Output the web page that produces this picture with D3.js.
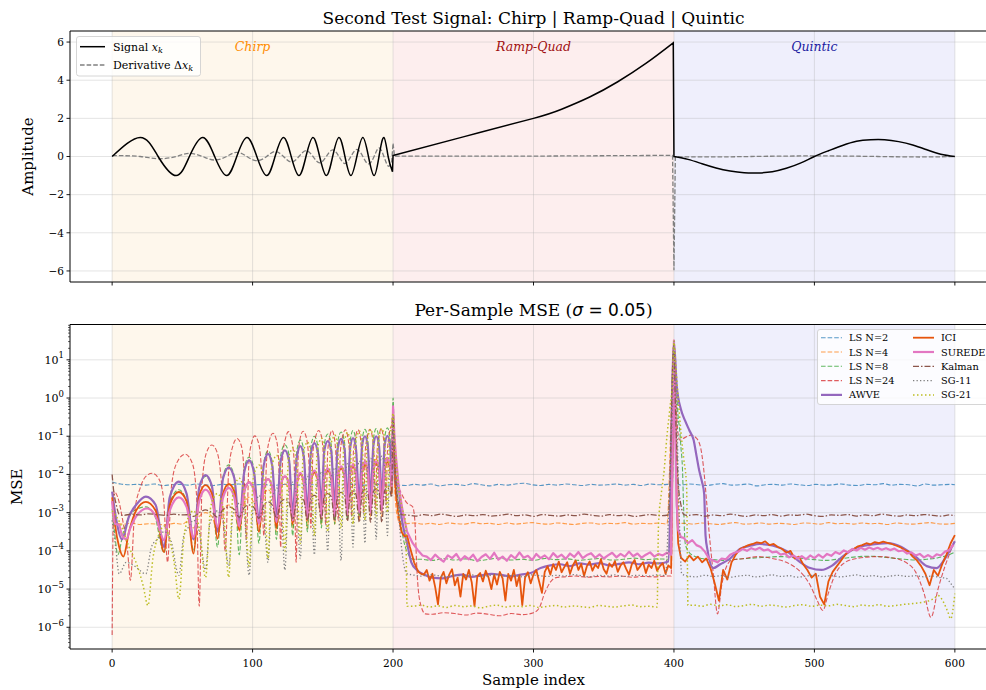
<!DOCTYPE html>
<html><head><meta charset="utf-8">
<script src="https://cdn.jsdelivr.net/npm/d3@7"></script>
<style>body{margin:0;background:#fff}svg{display:block}text{font-family:"DejaVu Serif",serif;fill:#000}</style>
</head><body><svg id="c" width="986" height="690"></svg>
<script>
// ---------------- DATA ----------------
const run = (x0, dx, vals) => vals.map((v, i) => [x0 + i * dx, v]);

const xTicks = [0, 100, 200, 300, 400, 500, 600];
const ampTicks = [-6, -4, -2, 0, 2, 4, 6];
const mseExps = [-6, -5, -4, -3, -2, -1, 0, 1];
const regionStarts = [0, 200, 400];
const regionEnds = [200, 400, 600];
const regionNames = ['Chirp', 'Ramp-Quad', 'Quintic'];

// top panel: signal and derivative (sample, value)
const signalChirp = [[0,0],[20,1],[32.75,0],[45.5,-1],[55,0],[64.5,1],[73,0],[81.5,-1],[88.75,0],[96,1],[103,0],[110,-1],[116,0],[122,1],[127.5,0],[133,-1],[138,0],[143,1],[147.75,0],[152.5,-1],[157,0],[161.5,1],[165.75,0],[170,-1],[174.25,0],[178.5,1],[182.5,0],[186.5,-1],[190,0],[193.5,1],[196.5,0],[199.6,-0.8]];
const signalRamp = [[200,0.05],[250,1.03],[300,2.0],[320,2.48],[340,3.12],[360,3.92],[380,4.88],[399.5,5.96]];
const signalQuintic = [[400,0],[410,-0.15],[420,-0.38],[430,-0.6],[440,-0.76],[450,-0.85],[460,-0.86],[470,-0.8],[480,-0.62],[490,-0.35],[500,0],[510,0.3],[520,0.58],[530,0.8],[540,0.88],[550,0.88],[560,0.78],[570,0.6],[580,0.35],[590,0.12],[600,0]];
const derivChirp = [[0,0.05],[20,0],[32.75,-0.12],[45.5,0],[55,0.165],[64.5,0],[73,-0.185],[81.5,0],[88.75,0.22],[96,0],[103,-0.22],[110,0],[116,0.26],[122,0],[127.5,-0.29],[133,0],[138,0.31],[143,0],[147.75,-0.33],[152.5,0],[157,0.35],[161.5,0],[165.75,-0.37],[170,0],[174.25,0.37],[178.5,0],[182.5,-0.39],[186.5,0],[190,0.45],[193.5,0],[196.5,-0.5],[199,-0.3]];
const derivRamp = [[200,0.7],[201,0.02],[300,0.02],[399,0.06],[400,-5.96],[401,-0.015]];
const derivQuintic = [[401,-0.015],[430,-0.022],[455,0],[500,0.03],[545,0],[575,-0.025],[600,0]];

// bottom panel: log10(MSE) per sample
const lsN2 = [
 ...run(0,6,[-2.2,-2.25,-2.27,-2.26,-2.28,-2.25,-2.29,-2.27,-2.26,-2.28,-2.25,-2.27,-2.29,-2.26,-2.27,-2.25,-2.28,-2.27,-2.26,-2.29,-2.27,-2.25,-2.28,-2.26,-2.27,-2.29,-2.26,-2.28,-2.25,-2.27,-2.28,-2.26,-2.27,-2.28]),
 [200,-1.0],[201,-2.1],
 ...run(203,6,[-2.27,-2.29,-2.26,-2.28,-2.25,-2.3,-2.27,-2.26,-2.29,-2.24,-2.27,-2.3,-2.26,-2.28,-2.25,-2.23,-2.27,-2.29,-2.26,-2.28,-2.25,-2.27,-2.29,-2.26,-2.28,-2.27,-2.25,-2.28,-2.26,-2.29,-2.25,-2.27,-2.26]),
 [399,-2.2],[400,1.3],[401,-0.6],[402,-2.2],
 ...run(405,6,[-2.28,-2.25,-2.27,-2.29,-2.26,-2.24,-2.28,-2.27,-2.25,-2.3,-2.27,-2.26,-2.28,-2.25,-2.27,-2.29,-2.26,-2.28,-2.27,-2.25,-2.28,-2.29,-2.26,-2.27,-2.24,-2.28,-2.26,-2.27,-2.3,-2.25,-2.28,-2.27,-2.26]),
 [600,-2.27]
];
const lsN4 = [
 [0,-3.0],[3,-3.28],[8,-3.3],[14,-3.28],[20,-3.31],[26,-3.29],[32,-3.3],[38,-3.32],[44,-3.28],[50,-3.3],[54,-3.22],[58,-3.4],[62,-3.1],[66.5,-3.0],[71,-3.1],[75,-3.5],[79,-2.95],[83,-2.8],[87,-2.95],[90.5,-3.5],[94,-2.75],[97.5,-2.6],[101,-2.75],[104.5,-3.5],[108,-2.55],[111,-2.4],[114,-2.55],[117,-3.5],[120,-2.4],[123,-2.25],[126,-2.4],[128.5,-3.4],[131.5,-2.25],[134,-2.1],[136.5,-2.25],[139,-3.4],[141.5,-2.15],[144,-2.0],[146.5,-2.15],[149,-3.3],[151,-2.05],[153.5,-1.9],[156,-2.05],[158.5,-3.3],[160.5,-1.95],[163,-1.8],[165.5,-1.95],[167.5,-3.2],[169.5,-1.85],[171.5,-1.7],[173.5,-1.85],[176,-3.2],[178,-1.8],[180,-1.65],[182,-1.8],[184,-3.1],[186,-1.75],[188,-1.6],[190,-1.75],[192,-3.1],[194,-1.7],[196,-1.55],[198,-1.8],[200,-0.8],[201,-2.2],[203,-3.1],[205,-3.28],
 ...run(209,6,[-3.29,-3.27,-3.3,-3.28,-3.31,-3.27,-3.29,-3.3,-3.26,-3.29,-3.28,-3.31,-3.27,-3.3,-3.28,-3.26,-3.29,-3.3,-3.27,-3.29,-3.31,-3.28,-3.27,-3.3,-3.28,-3.29,-3.26,-3.3,-3.28,-3.29,-3.27,-3.3]),
 [400,1.35],[401,0.2],[402,-1.2],[403,-2.6],[404,-3.28],
 ...run(408,6,[-3.28,-3.3,-3.27,-3.29,-3.31,-3.28,-3.26,-3.3,-3.29,-3.27,-3.3,-3.28,-3.29,-3.31,-3.27,-3.28,-3.3,-3.26,-3.29,-3.28,-3.3,-3.27,-3.29,-3.28,-3.31,-3.27,-3.29,-3.3,-3.28,-3.26,-3.29,-3.3,-3.28])
];
const lsN8 = [
 [0,-2.9],[2,-3.6],[4,-4.1],[8,-3.5],[13,-3.05],[18,-2.9],[24,-2.85],[30,-3.05],[37,-4.05],[41,-2.75],[47.5,-2.4],[53,-2.7],[58,-4.0],[62,-2.35],[66.5,-2.05],[71,-2.35],[75,-3.9],[79,-2.05],[83,-1.75],[87,-2.05],[90.5,-4.1],[94,-1.85],[97.5,-1.55],[101,-1.85],[104.5,-3.8],[108,-1.68],[111,-1.38],[114,-1.68],[117,-3.7],[120,-1.5],[123,-1.22],[126,-1.5],[128.5,-3.6],[131.5,-1.38],[134,-1.1],[136.5,-1.38],[139,-3.5],[141.5,-1.28],[144,-1.0],[146.5,-1.28],[149,-3.4],[151,-1.22],[153.5,-0.94],[156,-1.22],[158.5,-3.3],[160.5,-1.17],[163,-0.89],[165.5,-1.17],[167.5,-3.2],[169.5,-1.12],[171.5,-0.85],[173.5,-1.12],[176,-3.1],[178,-1.1],[180,-0.82],[182,-1.1],[184,-3.0],[186,-1.08],[188,-0.8],[190,-1.08],[192,-2.9],[194,-1.05],[196,-0.78],[198,-1.1],[199,-1.6],[200,0.0],[201,-1.2],[202,-2.0],[204,-2.8],[206,-3.4],[208,-3.8],[211,-4.1],[214,-4.22],
 ...run(220,8,[-4.22,-4.25,-4.2,-4.24,-4.21,-4.26,-4.22,-4.19,-4.24,-4.22,-4.25,-4.2,-4.23,-4.21,-4.25,-4.22,-4.2,-4.24,-4.22,-4.19,-4.23,-4.21,-4.22]),
 [400,1.45],[401,0.6],[402,0.1],[403,-0.5],[404,-0.8],[405,-1.3],[406,-1.8],[407,-3.0],[408,-3.8],[410,-4.0],[415,-4.15],
 ...run(420,8,[-4.2,-4.23,-4.25,-4.22,-4.2,-4.18,-4.16,-4.15,-4.17,-4.2,-4.23,-4.25,-4.22,-4.18,-4.15,-4.14,-4.16,-4.19,-4.22,-4.24,-4.22,-4.18,-4.1]),
 [600,-4.03]
];
const lsN24 = [
 [0,-6.2],[0.8,-3.0],[1.5,-2.45],[4,-2.6],[8,-3.3],[11,-4.0],[13,-4.77],[16,-3.0],[20,-2.35],[24,-2.05],[28.5,-1.97],[33,-2.1],[36.5,-2.6],[39.5,-4.3],[42,-2.4],[46,-1.7],[52,-1.47],[57,-1.7],[60,-2.5],[62,-5.45],[64,-2.3],[67,-1.45],[71,-1.23],[75,-1.45],[78,-2.3],[80.5,-4.0],[83,-1.9],[86,-1.25],[89,-1.06],[92,-1.25],[94,-2.0],[95.5,-3.7],[97.5,-1.6],[99.5,-1.15],[101.5,-0.99],[104,-1.15],[106,-1.7],[108,-3.6],[110,-1.6],[112,-1.1],[114.5,-0.92],[117,-1.1],[118.5,-1.6],[120,-3.9],[121.5,-1.5],[123.5,-1.05],[125.5,-0.88],[127.5,-1.05],[129.5,-1.6],[131,-4.3],[132.5,-1.5],[134.2,-1.0],[136,-0.87],[138,-1.0],[140,-1.6],[141.5,-3.4],[143,-1.4],[145,-1.0],[147,-0.85],[149,-1.0],[150.5,-1.6],[152,-3.3],[153.5,-1.4],[155,-1.0],[156.5,-0.85],[158,-1.0],[159.5,-1.6],[161,-3.2],[162.5,-1.4],[164.2,-1.0],[166,-0.83],[167.7,-1.0],[169.2,-1.6],[170.5,-3.1],[171.8,-1.4],[173.4,-1.0],[175,-0.83],[176.6,-1.0],[177.8,-1.6],[179,-3.0],[180.2,-1.4],[181.8,-1.0],[183.5,-0.82],[185.2,-1.0],[186.4,-1.5],[187.5,-2.9],[188.6,-1.4],[190,-1.0],[191.5,-0.8],[193,-1.0],[194,-1.5],[195,-2.8],[196,-1.4],[197,-1.0],[198,-0.8],[199,-0.7],[200,-0.3],[201,-1.3],[203,-2.2],[206,-2.5],[210,-2.75],[214,-2.85],[215.5,-3.2],[217,-4.5],[219,-5.3],[223,-5.65],
 ...run(228,8,[-5.66,-5.62,-5.64,-5.68,-5.63,-5.66,-5.7,-5.64,-5.67,-5.62]),
 [304,-5.5],[308,-5.1],[312,-4.82],[316,-4.7],
 ...run(322,8,[-4.68,-4.66,-4.69,-4.67,-4.68,-4.66,-4.69,-4.67,-4.68,-4.66]),
 [398,-4.66],[400,1.5],[401,0.3],[402,-0.5],[404,-1.1],[408,-1.03],[412,-0.97],[416,-1.05],[419,-1.3],[421,-1.8],[423,-2.6],[425,-3.5],[428,-4.6],[431,-5.65],[434,-4.9],[437,-4.45],[441,-4.25],[450,-4.2],[460,-4.15],[470,-4.2],[480,-4.3],[490,-4.55],[497,-4.9],[502,-5.3],[506,-5.56],[510,-5.1],[515,-4.6],[520,-4.35],[530,-4.2],[545,-4.15],[555,-4.18],[565,-4.3],[572,-4.55],[578,-5.1],[583,-5.74],[588,-5.0],[593,-4.4],[597,-4.0],[600,-3.72]
];
const awve = [
 [0,-2.45],[3,-3.2],[7,-3.7],[12,-3.1],[17,-2.8],[24,-2.58],[31,-2.8],[37,-3.9],[41,-2.6],[47.5,-2.19],[53,-2.5],[58,-3.7],[62,-2.35],[66.5,-2.02],[71,-2.3],[75,-3.5],[79,-2.1],[83,-1.82],[87,-2.1],[90.5,-3.3],[94,-1.95],[97.5,-1.63],[101,-1.95],[104.5,-3.2],[108,-1.75],[111,-1.46],[114,-1.78],[117,-3.1],[120,-1.65],[123,-1.37],[126,-1.65],[128.5,-3.0],[131.5,-1.55],[134,-1.26],[136.5,-1.55],[139,-2.9],[141.5,-1.45],[144,-1.18],[146.5,-1.45],[149,-2.8],[151,-1.4],[153.5,-1.13],[156,-1.4],[158.5,-2.8],[160.5,-1.35],[163,-1.07],[165.5,-1.35],[167.5,-2.7],[169.5,-1.3],[171.5,-1.05],[173.5,-1.3],[176,-2.7],[178,-1.25],[180,-1.0],[182,-1.25],[184,-2.6],[186,-1.25],[188,-1.0],[190,-1.25],[192,-2.6],[194,-1.25],[196,-0.99],[198,-1.3],[199,-2.2],[200,-0.85],[201.5,-2.2],[204,-2.35],[206,-3.1],[208,-3.5],[210,-3.8],[213,-4.3],[217,-4.5],[222,-4.62],
 ...run(228,7,[-4.7,-4.72,-4.66,-4.62,-4.68,-4.64,-4.6,-4.63,-4.67,-4.62,-4.58,-4.45,-4.38,-4.35,-4.4,-4.33,-4.36,-4.32,-4.38,-4.34,-4.3,-4.35,-4.31,-4.33,-4.28]),
 [400,1.45],[402,0.3],[405,-0.3],[408,-0.6],[411,-0.85],[414,-1.1],[416,-1.5],[418,-1.9],[420,-2.2],[421.5,-2.5],[422.5,-3.6],[424,-4.0],[428,-4.45],[433,-4.35],[440,-4.2],[447,-3.95],[455,-3.86],[461,-3.82],[470,-3.86],[480,-4.0],[490,-4.3],[497,-4.45],[505,-4.5],[512,-4.4],[520,-4.15],[530,-3.92],[540,-3.84],[552,-3.8],[562,-3.9],[572,-4.15],[580,-4.4],[587,-4.45],[593,-4.2],[600,-3.75]
];
const ici = [
 [0,-2.6],[2,-3.3],[5,-3.9],[8,-4.15],[12,-3.5],[17,-2.95],[24,-2.72],[31,-2.95],[37,-4.03],[41,-2.8],[47.5,-2.46],[53,-2.7],[58,-4.07],[62,-2.55],[66.5,-2.28],[71,-2.5],[75,-3.68],[79,-2.5],[83,-2.25],[87,-2.45],[90.5,-3.46],[94,-2.45],[97.5,-2.2],[101,-2.4],[104.5,-3.5],[108,-2.35],[111,-2.12],[114,-2.35],[117,-3.4],[120,-2.3],[123,-2.05],[126,-2.25],[128.5,-3.3],[131.5,-2.22],[134,-2.0],[136.5,-2.2],[139,-3.2],[141.5,-2.15],[144,-1.95],[146.5,-2.15],[149,-3.1],[151,-2.1],[153.5,-1.9],[156,-2.1],[158.5,-3.0],[160.5,-2.05],[163,-1.85],[165.5,-2.05],[167.5,-3.0],[169.5,-2.0],[171.5,-1.8],[173.5,-2.0],[176,-2.9],[178,-1.95],[180,-1.75],[182,-1.95],[184,-2.9],[186,-1.9],[188,-1.72],[190,-1.9],[192,-2.8],[194,-1.88],[196,-1.68],[198,-1.9],[199,-2.5],[200,-0.45],[201,-1.6],[202,-2.5],[204,-3.1],[206,-3.5],[208,-3.62],[210,-3.6],[212,-3.9],[215,-4.3],[218,-4.55],[220,-4.6],
 ...run(222,2,[-4.62,-4.5,-4.78,-4.6,-4.95,-5.4,-4.7,-4.55,-4.85,-4.62,-4.48,-4.9,-4.7,-5.2,-4.6,-4.75,-4.5,-4.82,-5.45,-4.66,-4.58,-4.8,-4.52,-4.7,-5.0,-4.62,-4.88,-4.55,-4.72,-5.3,-4.6,-4.78,-4.5,-4.92,-4.64,-5.42,-4.7,-4.56,-4.85,-4.62]),
 ...run(302,2,[-4.5,-4.8,-5.1,-4.55,-4.4,-4.62,-4.35,-4.5,-4.28,-4.56,-4.42,-4.3,-4.6,-4.38,-4.25,-4.5,-4.34,-4.66,-4.4,-4.28,-4.52,-4.36,-4.45,-4.22,-4.48,-4.6,-4.33,-4.42,-4.27,-4.55,-4.38,-4.3,-4.47,-4.62,-4.35,-4.24,-4.5,-4.4,-4.3,-4.58,-4.36,-4.45,-4.26,-4.52,-4.4,-4.32,-4.6,-4.38,-4.45]),
 [400,1.5],[401,-0.5],[402,-2.8],[403,-3.8],
 ...run(405,3,[-4.18,-4.28,-4.12,-4.25,-4.15,-4.3,-4.2,-4.45,-4.85,-5.3,-4.5,-4.75,-4.3,-4.1,-3.95,-3.9,-3.85,-3.82,-3.78,-3.8,-3.75,-3.85,-3.82,-3.9,-3.95,-4.05,-4.0,-4.2,-4.15,-4.35,-4.5,-4.7,-4.6,-5.2,-5.4,-4.8,-4.55,-4.4,-4.25,-4.1,-4.0,-3.95,-3.88,-3.85,-3.8,-3.83,-3.77,-3.8,-3.76,-3.79,-3.82,-3.86,-3.9,-3.97,-4.02,-4.15,-4.25,-4.4,-4.6,-4.9,-4.5,-4.65,-4.35,-4.1,-3.8]),
 [600,-3.59]
];
const surede = [
 [0,-2.7],[2,-3.29],[5,-3.32],[7,-3.6],[10,-3.7],[13,-3.4],[18,-3.05],[25,-2.89],[31,-3.1],[37,-3.72],[41,-2.95],[47.5,-2.6],[53,-2.85],[58,-3.64],[62,-2.7],[66.5,-2.4],[71,-2.65],[75,-3.37],[79,-2.6],[83,-2.35],[87,-2.6],[90.5,-3.35],[94,-2.45],[97.5,-2.21],[101,-2.45],[104.5,-3.29],[108,-2.35],[111,-2.12],[114,-2.35],[117,-3.25],[120,-2.28],[123,-2.05],[126,-2.28],[128.5,-3.2],[131.5,-2.2],[134,-1.96],[136.5,-2.2],[139,-3.15],[141.5,-2.12],[144,-1.9],[146.5,-2.12],[149,-3.1],[151,-2.08],[153.5,-1.85],[156,-2.08],[158.5,-3.1],[160.5,-2.02],[163,-1.79],[165.5,-2.02],[167.5,-3.05],[169.5,-1.97],[171.5,-1.74],[173.5,-1.97],[176,-3.0],[178,-1.9],[180,-1.66],[182,-1.9],[184,-3.0],[186,-1.9],[188,-1.66],[190,-1.9],[192,-2.95],[194,-1.8],[196,-1.57],[198,-1.8],[199,-2.3],[200,-0.22],[201,-1.0],[202,-1.5],[204,-2.3],[207,-3.0],[210,-3.5],[214,-3.8],[218,-4.0],[221,-4.12],
 ...run(224,3,[-4.15,-4.24,-4.1,-4.2,-4.28,-4.12,-4.19,-4.08,-4.25,-4.14,-4.22,-4.1,-4.27,-4.16,-4.09,-4.21,-4.05,-4.23,-4.15,-4.26,-4.11,-4.2,-4.04,-4.18,-4.13,-4.24,-4.08,-4.19,-4.12,-4.22,-4.06,-4.17,-4.1,-4.21,-4.07,-4.16,-4.03,-4.19,-4.11,-4.06,-4.18,-4.09,-4.2,-4.12,-4.05,-4.17,-4.08,-4.15,-4.02,-4.14,-4.07,-4.18,-4.1,-4.04,-4.15,-4.08,-4.12,-4.05,-4.1]),
 [400,1.5],[401,-1.0],[402,-2.8],[403,-3.45],[405,-3.64],
 ...run(407,3,[-3.66,-3.8,-3.72,-3.85,-3.9,-4.02,-4.2,-4.25,-4.3,-4.2,-4.22,-4.1,-4.05,-4.02,-3.95,-4.0,-3.93,-3.97,-3.92,-3.99,-3.96,-4.04,-4.02,-4.1,-4.07,-4.17,-4.12,-4.2,-4.14,-4.22,-4.12,-4.19,-4.1,-4.18,-4.08,-4.13,-4.03,-4.08,-3.99,-4.04,-3.95,-3.99,-3.92,-3.97,-3.91,-3.96,-3.92,-3.97,-3.93,-3.98,-3.94,-4.01,-3.99,-4.07,-4.04,-4.12,-4.08,-4.17,-4.11,-4.18,-4.09,-4.12,-4.02,-3.98,-3.84])
];
const kalman = [
 [0,-2.0],[1,-2.4],[3,-2.8],[5,-3.04],
 ...run(8,6,[-3.07,-3.04,-3.06,-3.03,-3.05,-3.07,-3.04,-3.06,-3.05]),
 [58,-3.1],[62,-3.0],[66.5,-2.93],[71,-3.0],[75,-3.12],[79,-2.92],[83,-2.85],[87,-2.92],[90.5,-3.12],[94,-2.87],[97.5,-2.8],[101,-2.87],[104.5,-3.15],[108,-2.8],[111,-2.72],[114,-2.8],[117,-3.15],[120,-2.73],[123,-2.65],[126,-2.73],[128.5,-3.18],[131.5,-2.68],[134,-2.6],[136.5,-2.68],[139,-3.2],[141.5,-2.63],[144,-2.55],[146.5,-2.63],[149,-3.2],[151,-2.58],[153.5,-2.5],[156,-2.58],[158.5,-3.22],[160.5,-2.55],[163,-2.47],[165.5,-2.55],[167.5,-3.22],[169.5,-2.51],[171.5,-2.43],[173.5,-2.51],[176,-3.25],[178,-2.48],[180,-2.4],[182,-2.48],[184,-3.25],[186,-2.45],[188,-2.37],[190,-2.45],[192,-3.25],[194,-2.43],[196,-2.35],[198,-2.45],[199,-2.6],[200,-0.5],[201,-1.5],[202,-2.2],[204,-2.8],[206,-3.05],
 ...run(210,6,[-3.06,-3.09,-3.05,-3.08,-3.04,-3.07,-3.1,-3.06,-3.08,-3.05,-3.09,-3.07,-3.04,-3.08,-3.06,-3.1,-3.05,-3.07,-3.09,-3.06,-3.08,-3.04,-3.07,-3.09,-3.05,-3.08,-3.06,-3.1,-3.07,-3.05,-3.08,-3.06]),
 [400,1.4],[401,-0.2],[402,-1.3],[403,-2.2],[405,-2.8],[407,-3.05],
 ...run(410,6,[-3.07,-3.05,-3.09,-3.06,-3.08,-3.04,-3.07,-3.1,-3.06,-3.08,-3.05,-3.09,-3.06,-3.07,-3.04,-3.08,-3.1,-3.06,-3.07,-3.05,-3.09,-3.06,-3.08,-3.04,-3.07,-3.09,-3.06,-3.08,-3.05,-3.07,-3.09,-3.06]),
 [600,-3.08]
];
const sg11 = [
 [0,-3.2],[2.5,-3.9],[5,-4.6],[10,-4.3],[16,-4.4],[24,-4.6],[28,-3.9],[32,-3.7],[37,-3.5],[42,-3.75],[47.5,-4.64],[51,-3.6],[54,-3.4],[58,-3.2],[62,-3.5],[66.5,-4.5],[69.5,-3.3],[72,-3.1],[75,-2.95],[79,-3.25],[83,-4.4],[86,-3.05],[88,-2.9],[90.5,-2.75],[94,-3.05],[97.5,-4.64],[100.5,-2.85],[102.5,-2.7],[104.5,-2.55],[107.5,-2.85],[111,-4.3],[113.5,-2.65],[115,-2.5],[117,-2.35],[120,-2.65],[123,-4.5],[125.5,-2.5],[127,-2.35],[128.5,-2.2],[131,-2.5],[134,-4.2],[136,-2.35],[137.5,-2.2],[139,-2.05],[141.5,-2.35],[144,-4.1],[146,-2.2],[147.5,-2.07],[149,-1.92],[151,-2.22],[153.5,-4.0],[155.5,-2.12],[157,-1.97],[158.5,-1.82],[160.5,-2.12],[163,-4.25],[165,-2.0],[166.3,-1.87],[167.5,-1.72],[169.5,-2.02],[171.5,-3.9],[173.3,-1.95],[174.7,-1.8],[176,-1.65],[178,-1.95],[180,-3.8],[181.6,-1.88],[182.8,-1.73],[184,-1.58],[186,-1.88],[188,-3.7],[189.6,-1.82],[190.8,-1.67],[192,-1.52],[194,-1.82],[196,-3.6],[197.5,-1.9],[199,-1.45],[200,-0.5],[201,-1.6],[203,-2.5],[205,-3.5],[207,-4.2],[210,-4.6],
 ...run(214,6,[-4.63,-4.66,-4.62,-4.65,-4.68,-4.64,-4.66,-4.63,-4.67,-4.65,-4.62,-4.66,-4.64,-4.68,-4.63,-4.65,-4.67,-4.64,-4.66,-4.62,-4.65,-4.68,-4.64,-4.66,-4.63,-4.67,-4.65,-4.64,-4.66,-4.63,-4.65]),
 [396,-3.2],[397,-2.3],[398,-1.3],[399,-0.2],[400,1.5],[401,0.5],[402,-0.25],[403,-2.0],[404,-3.4],[405.5,-4.6],
 ...run(410,6,[-4.66,-4.68,-4.64,-4.67,-4.65,-4.69,-4.66,-4.64,-4.68,-4.66,-4.63,-4.67,-4.65,-4.69,-4.66,-4.64,-4.67,-4.65,-4.68,-4.66,-4.63,-4.67,-4.65,-4.68,-4.66,-4.64,-4.67,-4.65,-4.68,-4.66,-4.7]),
 [594,-4.72],[597,-4.85],[600,-5.0]
];
const sg21 = [
 [0,-2.95],[6,-3.3],[12,-3.9],[18,-4.4],[22,-4.9],[25.5,-5.43],[29,-4.2],[33,-3.6],[37,-3.35],[41,-3.7],[44.5,-4.4],[47.5,-5.26],[51,-3.7],[54.5,-3.1],[58,-2.95],[62,-3.4],[66.5,-4.7],[70,-2.9],[72.5,-2.6],[75,-2.5],[79,-2.9],[83,-4.69],[86,-2.5],[88.3,-2.2],[90.5,-2.1],[94,-2.5],[97.5,-4.4],[100.5,-2.1],[102.5,-1.85],[104.5,-1.75],[108,-2.1],[111,-4.2],[113.5,-1.85],[115.2,-1.6],[117,-1.5],[120,-1.85],[123,-4.0],[125.5,-1.6],[127,-1.4],[128.5,-1.3],[131,-1.6],[134,-3.8],[136,-1.45],[137.5,-1.25],[139,-1.15],[141.5,-1.45],[144,-3.6],[146,-1.35],[147.5,-1.15],[149,-1.05],[151,-1.35],[153.5,-3.5],[155.5,-1.27],[157,-1.07],[158.5,-0.97],[160.5,-1.27],[163,-3.4],[165,-1.2],[166.3,-1.0],[167.5,-0.9],[169.5,-1.2],[171.5,-3.3],[173.3,-1.16],[174.7,-0.96],[176,-0.86],[178,-1.16],[180,-3.2],[181.6,-1.12],[182.8,-0.92],[184,-0.82],[186,-1.12],[188,-3.1],[189.6,-1.1],[190.8,-0.9],[192,-0.8],[194,-1.1],[196,-3.0],[197.5,-1.0],[199,-0.75],[200,-0.4],[201,-1.0],[203,-2.0],[206,-2.8],[209,-3.3],[210,-5.45],
 ...run(214,6,[-5.45,-5.42,-5.47,-5.44,-5.48,-5.43,-5.46,-5.44,-5.49,-5.45,-5.42,-5.47,-5.44,-5.46,-5.43,-5.48,-5.45,-5.43,-5.47,-5.44,-5.46,-5.48,-5.43,-5.45,-5.47,-5.44,-5.42,-5.46,-5.45,-5.47]),
 [389,-3.3],[391,-2.5],[393,-1.9],[395,-1.0],[397,-0.3],[399,0.5],[400,1.5],[401,1.0],[403,0.0],[405,-0.9],[407,-1.6],[409,-2.3],[410,-5.43],
 ...run(414,6,[-5.42,-5.45,-5.4,-5.44,-5.41,-5.46,-5.43,-5.4,-5.45,-5.42,-5.44,-5.47,-5.43,-5.41,-5.45,-5.42,-5.44,-5.4,-5.43,-5.46,-5.42,-5.44,-5.41,-5.45,-5.43,-5.4,-5.38,-5.35,-5.3]),
 [585,-5.25],[588,-5.17],[592,-5.35],[595,-5.6],[597,-5.78],[600,-5.12]
];

const seriesNames = ['LS N=2','LS N=4','LS N=8','LS N=24','AWVE','ICI','SUREDE','Kalman','SG-11','SG-21'];
const seriesData = [lsN2, lsN4, lsN8, lsN24, awve, ici, surede, kalman, sg11, sg21];

// ---------------- STYLES ----------------
const seriesStyle = [
 {c:'#1f77b4', w:1.1, d:'4.6,2', o:0.75},
 {c:'#ff7f0e', w:1.1, d:'4.6,2', o:0.75},
 {c:'#2ca02c', w:1.1, d:'4.6,2', o:0.75},
 {c:'#d62728', w:1.1, d:'4.6,2', o:0.75},
 {c:'#9467bd', w:2.2, d:null, o:1},
 {c:'#e6550d', w:1.8, d:null, o:1, jag:true},
 {c:'#e377c2', w:2.2, d:null, o:1, jag:true},
 {c:'#8c564b', w:1.3, d:'6,2,1.5,2', o:1},
 {c:'#7f7f7f', w:1.3, d:'1.3,2.2', o:1},
 {c:'#bcbd22', w:1.5, d:'1.5,2.5', o:1},
];
const regionFill = ['rgb(254,247,236)','rgb(253,238,238)','rgb(239,239,252)'];
const regionText = ['#ff8c00','#a01010','#1a1aa0'];

// ---------------- DRAW ----------------
const svg = d3.select('#c');
svg.append('rect').attr('width',986).attr('height',690).attr('fill','#fff');
const L = 70, R = 997;
const x = d3.scaleLinear().domain([-30, 630]).range([L, R]);
const topB = {t:31, b:282}, botB = {t:324.5, b:649};
const yTop = d3.scaleLinear().domain([-6.58, 6.58]).range([topB.b, topB.t]);
const yBot = d3.scaleLog().domain([2.7e-7, 84]).range([botB.b, botB.t]);

const defs = svg.append('defs');
defs.append('clipPath').attr('id','clipT').append('rect').attr('x',L).attr('y',topB.t).attr('width',R-L).attr('height',topB.b-topB.t);
defs.append('clipPath').attr('id','clipB').append('rect').attr('x',L).attr('y',botB.t).attr('width',R-L).attr('height',botB.b-botB.t);

function panelBase(B, clipId) {
  const g = svg.append('g').attr('clip-path', `url(#${clipId})`);
  regionStarts.forEach((s, i) => {
    g.append('rect').attr('x', x(s)).attr('y', B.t).attr('width', x(regionEnds[i]) - x(s)).attr('height', B.b - B.t)
     .attr('fill', regionFill[i]);
  });
  return g;
}
function grid(g, B, yScale, yVals) {
  xTicks.forEach(t => g.append('line').attr('x1', x(t)).attr('x2', x(t)).attr('y1', B.t).attr('y2', B.b)
    .attr('stroke', '#b0b0b0').attr('stroke-opacity', 0.38).attr('stroke-width', 0.9));
  yVals.forEach(v => g.append('line').attr('x1', L).attr('x2', R).attr('y1', yScale(v)).attr('y2', yScale(v))
    .attr('stroke', '#b0b0b0').attr('stroke-opacity', 0.38).attr('stroke-width', 0.9));
}

// ---- top panel
const gT = panelBase(topB, 'clipT');
grid(gT, topB, yTop, ampTicks);
regionStarts.forEach((s, i) => {
  gT.append('text').attr('x', x((s + regionEnds[i]) / 2)).attr('y', 50.5).attr('text-anchor','middle')
    .attr('font-size', 12.5).attr('font-style','italic').style('fill', regionText[i]).text(regionNames[i]);
});
function joinPath(segs, yS) {
  return segs.map((s, i) => {
    const p = d3.line().x(d => x(d[0])).y(d => yS(d[1])).curve(s.curve)(s.data);
    return i === 0 ? p : p.replace(/^M/, 'L');
  }).join('');
}
gT.append('path').attr('d', joinPath([
  {data: derivChirp, curve: d3.curveNatural},
  {data: derivRamp, curve: d3.curveLinear},
  {data: derivQuintic, curve: d3.curveNatural}], yTop))
  .attr('fill','none').attr('stroke','#808080').attr('stroke-width',1.3).attr('stroke-dasharray','4.6,2');
gT.append('path').attr('d', joinPath([
  {data: signalChirp, curve: d3.curveNatural},
  {data: signalRamp, curve: d3.curveNatural},
  {data: signalQuintic, curve: d3.curveNatural}], yTop))
  .attr('fill','none').attr('stroke','#000').attr('stroke-width',1.5);

// ---- bottom panel
const gB = panelBase(botB, 'clipB');
grid(gB, botB, yBot, mseExps.map(e => Math.pow(10, e)));
const yLog = v => yBot(Math.pow(10, v));
seriesData.forEach((data, i) => {
  const st = seriesStyle[i];
  const sorted = data.slice().sort((a, b) => a[0] - b[0]);
  let d;
  if (st.jag) {
    d = joinPath([
      {data: sorted.filter(p => p[0] < 200), curve: d3.curveMonotoneX},
      {data: sorted.filter(p => p[0] >= 199), curve: d3.curveLinear}], yLog);
  } else {
    d = joinPath([{data: sorted, curve: d3.curveMonotoneX}], yLog);
  }
  gB.append('path').attr('d', d).attr('fill','none').attr('stroke', st.c)
    .attr('stroke-width', st.w).attr('stroke-opacity', st.o).attr('stroke-dasharray', st.d)
    .attr('stroke-linejoin','round');
});

// ---- axes frames, ticks, labels
function frame(B) {
  [[L,L,B.t,B.b],[L,R,B.t,B.t],[L,R,B.b,B.b],[R,R,B.t,B.b]].forEach(a =>
    svg.append('line').attr('x1',a[0]).attr('x2',a[1]).attr('y1',a[2]).attr('y2',a[3]).attr('stroke','#000').attr('stroke-width',1));
}
frame(topB); frame(botB);
function xTickMarks(B, labels) {
  xTicks.forEach(t => {
    svg.append('line').attr('x1', x(t)).attr('x2', x(t)).attr('y1', B.b).attr('y2', B.b + 3.5).attr('stroke','#000').attr('stroke-width',0.9);
    if (labels) svg.append('text').attr('x', x(t)).attr('y', B.b + 18).attr('text-anchor','middle').attr('font-size',10.5).text(t);
  });
}
xTickMarks(topB, false); xTickMarks(botB, true);
ampTicks.forEach(v => {
  svg.append('line').attr('x1', L - 3.5).attr('x2', L).attr('y1', yTop(v)).attr('y2', yTop(v)).attr('stroke','#000').attr('stroke-width',0.9);
  svg.append('text').attr('x', L - 6).attr('y', yTop(v) + 3.8).attr('text-anchor','end').attr('font-size',10.5)
    .text(v < 0 ? '\u2212' + (-v) : v);
});
for (let e = -7; e <= 1; e++) {
  for (let k = 2; k <= 9; k++) {
    const v = k * Math.pow(10, e);
    if (v < 2.7e-7 || v > 84) continue;
    svg.append('line').attr('x1', L - 2).attr('x2', L).attr('y1', yBot(v)).attr('y2', yBot(v)).attr('stroke','#000').attr('stroke-width',0.6);
  }
}
mseExps.forEach(e => {
  const yy = yBot(Math.pow(10, e));
  svg.append('line').attr('x1', L - 3.5).attr('x2', L).attr('y1', yy).attr('y2', yy).attr('stroke','#000').attr('stroke-width',0.9);
  const t = svg.append('text').attr('x', L - 6).attr('y', yy + 4).attr('text-anchor','end').attr('font-size',11);
  t.append('tspan').text('10');
  t.append('tspan').attr('dy', -5.5).attr('font-size', 8.5).text(e < 0 ? '\u2212' + (-e) : e);
});

// titles and axis labels
svg.append('text').attr('x', (L + R) / 2).attr('y', 23.5).attr('text-anchor','middle').attr('font-size',17)
  .text('Second Test Signal: Chirp | Ramp-Quad | Quintic');
const t2 = svg.append('text').attr('x', (L + R) / 2).attr('y', 315.5).attr('text-anchor','middle').attr('font-size',17);
t2.append('tspan').text('Per-Sample MSE (');
t2.append('tspan').attr('font-family','DejaVu Sans').attr('font-style','italic').text('\u03c3');
t2.append('tspan').attr('font-family','DejaVu Sans').text(' = 0.05');
t2.append('tspan').text(')');
svg.append('text').attr('transform', `translate(33,${(topB.t + topB.b) / 2}) rotate(-90)`).attr('text-anchor','middle').attr('font-size',15).text('Amplitude');
svg.append('text').attr('transform', `translate(22,${(botB.t + botB.b) / 2}) rotate(-90)`).attr('text-anchor','middle').attr('font-size',15).text('MSE');
svg.append('text').attr('x', (L + R) / 2).attr('y', 684.5).attr('text-anchor','middle').attr('font-size',15).text('Sample index');

// top legend
const lg = svg.append('g');
lg.append('rect').attr('x',76.5).attr('y',36.5).attr('width',124).attr('height',39.5).attr('rx',2.5)
  .attr('fill','#fff').attr('fill-opacity',0.8).attr('stroke','#cccccc').attr('stroke-width',0.8);
lg.append('line').attr('x1',80).attr('x2',105).attr('y1',46.7).attr('y2',46.7).attr('stroke','#000').attr('stroke-width',1.5);
lg.append('line').attr('x1',80).attr('x2',105).attr('y1',65).attr('y2',65).attr('stroke','#808080').attr('stroke-width',1.3).attr('stroke-dasharray','4.6,2');
const l1 = lg.append('text').attr('x',113).attr('y',50.6).attr('font-size',11);
l1.append('tspan').text('Signal ');
l1.append('tspan').attr('font-style','italic').text('x');
l1.append('tspan').attr('font-style','italic').attr('font-size',8).attr('dy',2.5).text('k');
const l2 = lg.append('text').attr('x',113).attr('y',68.9).attr('font-size',11);
l2.append('tspan').text('Derivative \u0394');
l2.append('tspan').attr('font-style','italic').text('x');
l2.append('tspan').attr('font-style','italic').attr('font-size',8).attr('dy',2.5).text('k');

// bottom legend
const lb = svg.append('g');
lb.append('rect').attr('x',817.5).attr('y',329.5).attr('width',185).attr('height',75).attr('rx',2.5)
  .attr('fill','#fff').attr('fill-opacity',0.8).attr('stroke','#cccccc').attr('stroke-width',0.8);
seriesNames.forEach((nm, i) => {
  const col = Math.floor(i / 5), row = i % 5, st = seriesStyle[i];
  const yy = 337.7 + row * 14.3;
  const hx = col ? 913 : 821;
  lb.append('line').attr('x1', hx).attr('x2', hx + 21).attr('y1', yy).attr('y2', yy).attr('stroke', st.c)
    .attr('stroke-width', st.w).attr('stroke-opacity', st.o).attr('stroke-dasharray', st.d);
  lb.append('text').attr('x', col ? 941 : 849).attr('y', yy + 3.5).attr('font-size', 9.8).text(nm);
});
</script></body></html>
